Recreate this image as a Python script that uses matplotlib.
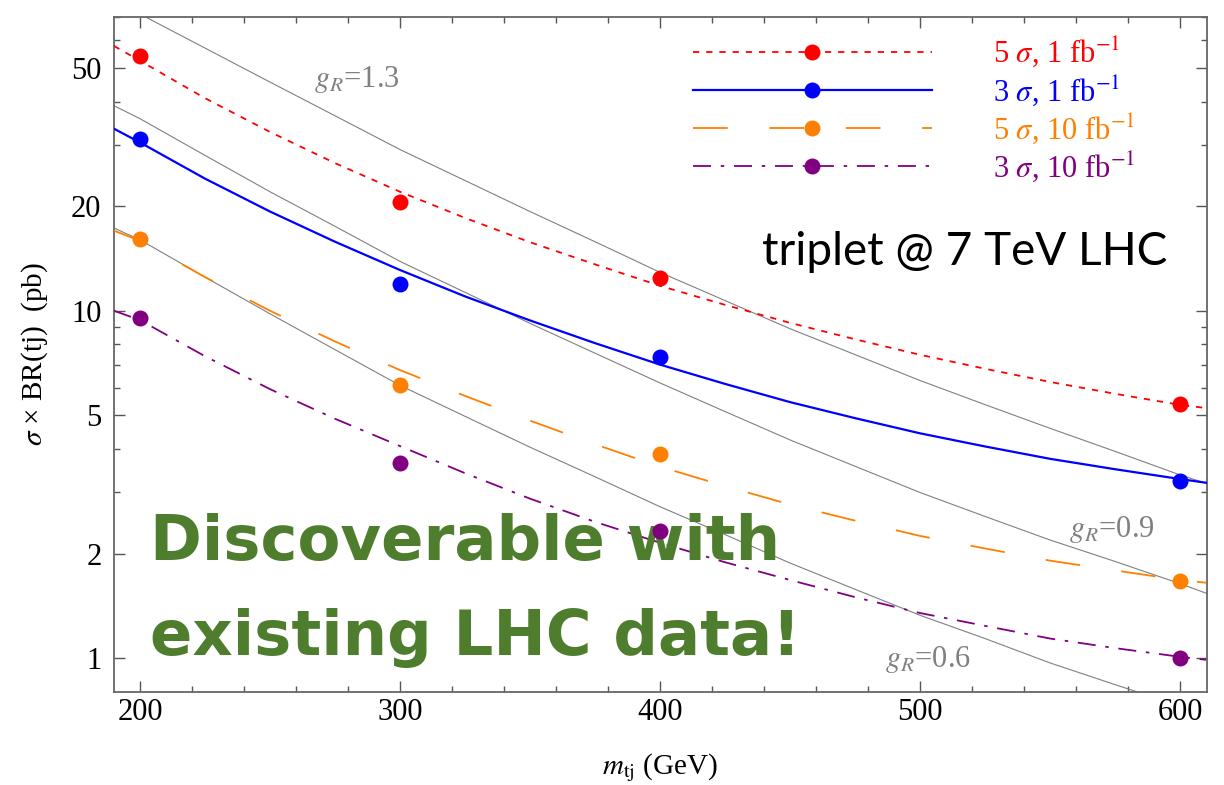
import matplotlib
matplotlib.use('Agg')
import matplotlib.pyplot as plt
from matplotlib.lines import Line2D
from matplotlib.ticker import FixedLocator, FixedFormatter, NullFormatter

plt.rcParams['font.family'] = 'serif'
plt.rcParams['font.serif'] = ['Liberation Serif', 'DejaVu Serif']
plt.rcParams['mathtext.fontset'] = 'stix'
plt.rcParams['lines.scale_dashes'] = False

# measured signal points (pb)
massa_pontos = [200, 300, 400, 600]
pts_5s_1fb = [54.2, 20.5, 12.4, 5.39]
pts_3s_1fb = [31.1, 11.9, 7.37, 3.23]
pts_5s_10fb = [16.1, 6.12, 3.88, 1.67]
pts_3s_10fb = [9.56, 3.64, 2.33, 1.00]

# fitted curves, every 25 GeV
massa_curva = [190, 200, 225, 250, 275, 300, 325, 350, 375, 400, 425,
               450, 475, 500, 525, 550, 575, 600, 610]
fit_5s_1fb = [57.8, 52.4, 40.9, 32.7, 26.6, 22.0, 18.5, 15.75, 13.6, 11.8, 10.4,
              9.23, 8.28, 7.47, 6.81, 6.24, 5.77, 5.36, 5.25]
fit_3s_1fb = [33.4, 30.5, 24.0, 19.3, 15.8, 13.1, 11.0, 9.38, 8.07, 7.0, 6.16,
              5.46, 4.91, 4.44, 4.07, 3.75, 3.50, 3.28, 3.20]
fit_5s_10fb = [17.0, 15.9, 12.5, 10.0, 8.16, 6.75, 5.69, 4.83, 4.13, 3.56, 3.13,
               2.77, 2.49, 2.25, 2.07, 1.91, 1.79, 1.68, 1.65]
fit_3s_10fb = [10.0, 9.4, 7.40, 5.95, 4.89, 4.08, 3.41, 2.88, 2.47, 2.15, 1.89,
               1.68, 1.50, 1.35, 1.24, 1.14, 1.07, 1.01, 0.99]

# theory curves for g_R
gR_13 = [78.0, 71.4, 57.0, 45.5, 36.4, 29.1, 23.7, 19.3, 15.8, 12.9, 10.7,
         8.88, 7.48, 6.3, 5.37, 4.59, 3.94, 3.37, 3.19]
gR_09 = [38.9, 35.7, 28.0, 22.0, 17.5, 13.87, 11.3, 9.2, 7.55, 6.2, 5.13,
         4.25, 3.57, 3.0, 2.56, 2.19, 1.90, 1.64, 1.54]
gR_06 = [17.3, 16.0, 12.5, 9.8, 7.73, 6.1, 4.97, 4.05, 3.33, 2.73, 2.27,
         1.88, 1.58, 1.33, 1.14, 0.97, 0.84, 0.73, 0.68]

rotulos = [r'5 $\sigma$, 1 fb$^{-1}$', r'3 $\sigma$, 1 fb$^{-1}$',
           r'5 $\sigma$, 10 fb$^{-1}$', r'3 $\sigma$, 10 fb$^{-1}$']

cores = ['#FF0000', '#0000FF', '#FF8000', '#800080']
estilos = [(0, (4.5, 5.0)), '-', (0, (25, 30)), (0, (13, 7, 2.5, 7))]
larguras = [1.3, 1.6, 1.3, 1.3]

fig = plt.figure(figsize=(12.24, 7.85), dpi=100)
ax = fig.add_axes([0.0931, 0.1185, 0.893, 0.8598])
ax.set_yscale('log')

cinza = '#808080'
for serie in [gR_13, gR_09, gR_06]:
    ax.plot(massa_curva, serie, color=cinza, lw=0.8, zorder=2)

fits = [fit_5s_1fb, fit_3s_1fb, fit_5s_10fb, fit_3s_10fb]
pontos = [pts_5s_1fb, pts_3s_1fb, pts_5s_10fb, pts_3s_10fb]
handles = []
for fit, pts, cor, ls, lw in zip(fits, pontos, cores, estilos, larguras):
    ax.plot(massa_curva, fit, color=cor, ls=ls, lw=lw, zorder=3)
    ax.plot(massa_pontos, pts, 'o', color=cor, ms=11.5, mec='none', zorder=4)
    handles.append(Line2D([], [], color=cor, ls=ls, lw=lw, marker='o', ms=11.5, mec='none'))

ax.set_xlim(190, 610.4)
ax.set_ylim(0.8, 70)

ax.xaxis.set_major_locator(FixedLocator([200, 300, 400, 500, 600]))
ax.xaxis.set_minor_locator(FixedLocator([v for v in range(220, 600, 20) if v % 100 != 0]))
ax.yaxis.set_major_locator(FixedLocator([1, 2, 5, 10, 20, 50]))
ax.yaxis.set_major_formatter(FixedFormatter(['1', '2', '5', '10', '20', '50']))
ax.yaxis.set_minor_locator(FixedLocator([3, 4, 6, 7, 8, 9, 30, 40, 60, 70]))
ax.yaxis.set_minor_formatter(NullFormatter())

ax.tick_params(which='both', direction='in', top=True, right=True, color='#555555', labelsize=22)
ax.tick_params(which='major', length=8, width=1)
ax.tick_params(which='minor', length=4, width=1)
ax.tick_params(axis='x', pad=4)
ax.tick_params(axis='y', pad=9)
for sp in ax.spines.values():
    sp.set_color('#666666')
    sp.set_linewidth(1.3)

ax.set_xlabel(r'$m_{\rm tj}$ (GeV)', fontsize=21, labelpad=18)
ax.set_ylabel(r'$\sigma$ × BR(tj)  (pb)', fontsize=21, labelpad=15)

# g_R labels
ax.text(283.5, 46.3, r'$g_R$=1.3', color=cinza, fontsize=22, ha='center', va='center')
ax.text(573.8, 2.34, r'$g_R$=0.9', color=cinza, fontsize=22, ha='center', va='center')
ax.text(503, 0.99, r'$g_R$=0.6', color=cinza, fontsize=22, ha='center', va='center')

leg = ax.legend(handles, rotulos, loc='upper left', bbox_to_anchor=(0.516, 0.996),
                frameon=False, numpoints=1, handlelength=7.8, handletextpad=2.0,
                labelspacing=0.125, borderpad=0, fontsize=22)
for txt, cor in zip(leg.get_texts(), cores):
    txt.set_color(cor)

ax.text(0.593, 0.6326, 'triplet @ 7 TeV LHC', transform=ax.transAxes, fontsize=33,
        family='Lato', fontweight='normal', color='black', va='baseline', ha='left')

verde = '#4E7D2E'
ax.text(0.033, 0.1956, 'Discoverable with', transform=ax.transAxes, fontsize=45,
        family='DejaVu Sans', fontweight='bold', color=verde, va='baseline', ha='left')
ax.text(0.033, 0.0548, 'existing LHC data!', transform=ax.transAxes, fontsize=45,
        family='DejaVu Sans', fontweight='bold', color=verde, va='baseline', ha='left')

plt.savefig('out.png', dpi=100)
plt.close()
